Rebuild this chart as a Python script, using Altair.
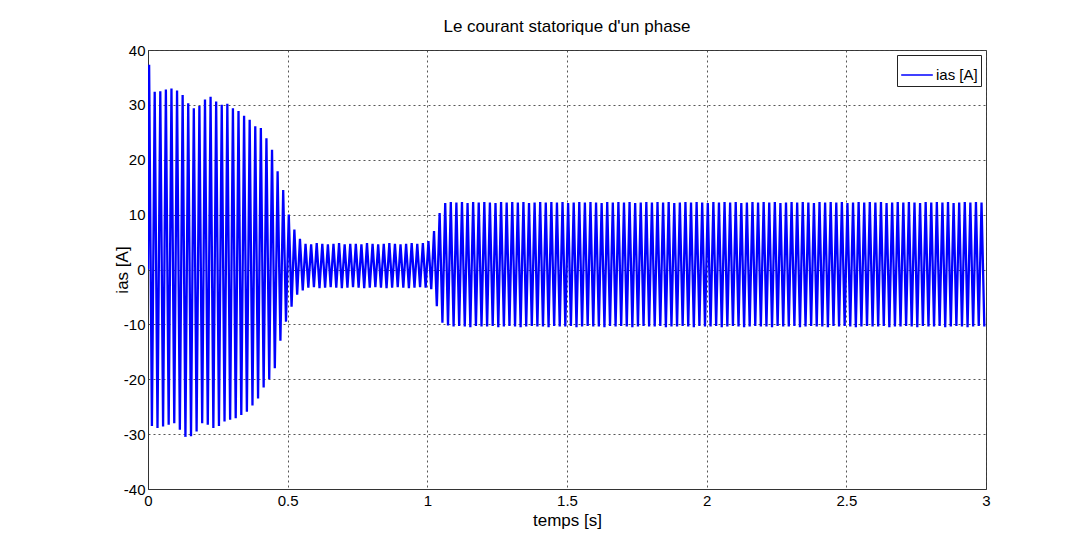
import altair as alt
import pandas as pd

TITLE = "Le courant statorique d'un phase"
X_TITLE = "temps [s]"
Y_TITLE = "ias [A]"
SERIES = "ias [A]"
X_TICKS = [0, 0.5, 1, 1.5, 2, 2.5, 3]
Y_TICKS = [-40, -30, -20, -10, 0, 10, 20, 30, 40]

# 50 Hz supply: one positive peak and one negative peak per 20 ms cycle
PERIOD = 0.02
PEAK_T0 = 0.004
TROUGH_T0 = 0.014

# positive peaks (A), one per cycle
upper_start = [37.3, 32.4, 32.5, 32.8, 33.0, 32.6, 31.8, 30.3, 29.4, 29.8,
               31.0, 31.5, 30.6, 30.0, 30.2, 29.4, 28.9, 28.0, 27.3, 26.1,
               25.8, 23.9, 21.8, 17.9, 14.5, 10.0, 7.3, 5.6]
upper_noload = [4.7, 4.6, 4.8, 4.7, 4.6, 4.7, 4.8, 4.6, 4.7, 4.7, 4.6,
                4.8, 4.7, 4.6, 4.7, 4.8, 4.7, 4.6, 4.7, 4.8, 4.7, 4.8]
upper_load_step = [5.2, 7.0, 10.3, 12.1]
upper_load = [12.3, 12.2, 12.3, 12.1, 12.3, 12.2, 12.3, 12.2, 12.1, 12.3,
              12.2, 12.3, 12.2, 12.3, 12.1, 12.2, 12.3, 12.2, 12.3, 12.2,
              12.3, 12.1, 12.2, 12.3, 12.2, 12.3, 12.2, 12.1, 12.3, 12.2,
              12.3, 12.2, 12.3, 12.1, 12.2, 12.3, 12.2, 12.3, 12.2, 12.3,
              12.1, 12.2, 12.3, 12.2, 12.3, 12.2, 12.1, 12.3, 12.2, 12.3,
              12.2, 12.3, 12.1, 12.2, 12.3, 12.2, 12.3, 12.2, 12.3, 12.1,
              12.2, 12.3, 12.2, 12.3, 12.2, 12.1, 12.3, 12.2, 12.3, 12.2,
              12.3, 12.1, 12.2, 12.3, 12.2, 12.3, 12.2, 12.3, 12.1, 12.2,
              12.3, 12.2, 12.3, 12.2, 12.1, 12.3, 12.2, 12.3, 12.2, 12.3,
              12.1, 12.2, 12.3, 12.2, 12.3, 12.2]

# negative peaks (A), one per cycle
lower_start = [-28.5, -28.9, -28.6, -28.3, -28.0, -29.2, -30.5, -30.4, -29.5, -28.0,
               -28.3, -28.9, -28.5, -27.7, -27.4, -27.1, -26.5, -25.9, -24.8, -23.5,
               -21.5, -20.0, -18.0, -13.0, -9.5, -6.8, -4.6, -3.8]
lower_noload = [-3.3, -3.2, -3.4, -3.3, -3.2, -3.3, -3.4, -3.3, -3.2, -3.3, -3.4,
                -3.3, -3.2, -3.3, -3.4, -3.3, -3.2, -3.3, -3.4, -3.3, -3.2, -3.3]
lower_load_step = [-3.6, -6.7, -9.7, -10.2]
lower_load = [-10.4, -10.3, -10.4, -10.5, -10.3, -10.4, -10.4, -10.3, -10.5, -10.4,
              -10.3, -10.4, -10.5, -10.4, -10.3, -10.4, -10.4, -10.5, -10.3, -10.4,
              -10.4, -10.3, -10.5, -10.4, -10.3, -10.4, -10.4, -10.5, -10.3, -10.4,
              -10.3, -10.4, -10.5, -10.4, -10.3, -10.4, -10.4, -10.3, -10.5, -10.4,
              -10.4, -10.3, -10.4, -10.5, -10.3, -10.4, -10.4, -10.3, -10.5, -10.4,
              -10.3, -10.4, -10.5, -10.4, -10.3, -10.4, -10.4, -10.5, -10.3, -10.4,
              -10.4, -10.3, -10.5, -10.4, -10.3, -10.4, -10.4, -10.5, -10.3, -10.4,
              -10.3, -10.4, -10.5, -10.4, -10.3, -10.4, -10.4, -10.3, -10.5, -10.4,
              -10.4, -10.3, -10.4, -10.5, -10.3, -10.4, -10.4, -10.3, -10.5, -10.4,
              -10.3, -10.4, -10.5, -10.4, -10.3, -10.4]

upper = upper_start + upper_noload + upper_load_step + upper_load
lower = lower_start + lower_noload + lower_load_step + lower_load

rows = [{"t": 0.0, "i": 0.0, "s": SERIES}]
for k, (hi, lo) in enumerate(zip(upper, lower)):
    rows.append({"t": PEAK_T0 + k * PERIOD, "i": hi, "s": SERIES})
    rows.append({"t": TROUGH_T0 + k * PERIOD, "i": lo, "s": SERIES})
df = pd.DataFrame(rows)

FONT = "Liberation Sans"

chart = alt.Chart(df).mark_line(strokeWidth=2.3, clip=True).encode(
    x=alt.X("t:Q", title=X_TITLE,
            scale=alt.Scale(domain=[0, 3], nice=False, zero=False),
            axis=alt.Axis(values=X_TICKS, format="~g", labelFlush=False,
                          labelPadding=4, titlePadding=4)),
    y=alt.Y("i:Q", title=Y_TITLE,
            scale=alt.Scale(domain=[-40, 40], nice=False),
            axis=alt.Axis(values=Y_TICKS, labelFlush=False,
                          labelExpr="replace(datum.label, '\u2212', '-')",
                          labelPadding=3, titlePadding=-8)),
    color=alt.Color("s:N", scale=alt.Scale(domain=[SERIES], range=["#0000ff"]),
                    legend=alt.Legend(title=None, orient="top-right", offset=5,
                                      strokeColor="#222", fillColor="white",
                                      padding=3, symbolType="stroke",
                                      symbolSize=1000, symbolStrokeWidth=1.5,
                                      labelFontSize=15, labelFont=FONT,
                                      labelColor="black", labelOffset=2)),
    order="t:Q",
).properties(
    width=838, height=439,
    title=alt.TitleParams(TITLE, font=FONT, fontSize=17, fontWeight="normal",
                          color="black", frame="group", anchor="middle",
                          baseline="alphabetic", offset=14, dy=20),
    autosize=alt.AutoSizeParams(type="none"),
    padding={"left": 148, "top": 50, "right": 96, "bottom": 56},
    background="white",
).configure_axis(
    labelFont=FONT, labelFontSize=15, labelColor="black",
    titleFont=FONT, titleFontSize=17, titleFontWeight="normal", titleColor="black",
    domainColor="#333", ticks=False,
    grid=True, gridColor="#444", gridDash=[2, 3], gridWidth=1, gridOpacity=0.9,
).configure_view(
    stroke="#333", strokeWidth=1,
)

chart.save("out.html", embed_options={"renderer": "svg", "actions": False})
